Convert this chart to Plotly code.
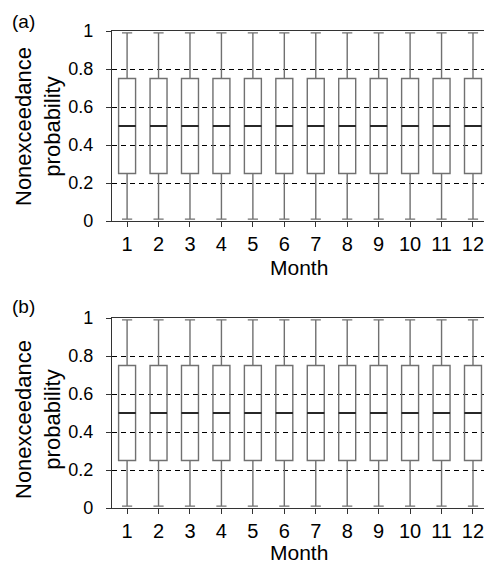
import plotly.graph_objects as go

months = [1, 2, 3, 4, 5, 6, 7, 8, 9, 10, 11, 12]
tick_labels = [str(m) for m in months]
y_ticks = [0, 0.2, 0.4, 0.6, 0.8, 1]
y_tick_labels = ["0", "0.2", "0.4", "0.6", "0.8", "1"]
# panel (a)
a_low = [0.01] * 12
a_q1 = [0.25] * 12
a_med = [0.50] * 12
a_q3 = [0.75] * 12
a_up = [0.99] * 12
# panel (b)
b_low = [0.01] * 12
b_q1 = [0.25] * 12
b_med = [0.50] * 12
b_q3 = [0.75] * 12
b_up = [0.99] * 12

W, H = 484, 565
FONT = "Liberation Sans, Arial, sans-serif"

fig = go.Figure()

def add_box(low, q1, med, q3, up, xa, ya):
    fig.add_trace(go.Box(
        x=months, lowerfence=low, q1=q1, median=med, q3=q3, upperfence=up,
        xaxis=xa, yaxis=ya, width=0.54, whiskerwidth=0.6,
        line=dict(color="#707070", width=1.4), fillcolor="rgba(0,0,0,0)",
        showlegend=False, hoverinfo="skip", boxpoints=False,
    ))
    # median drawn in black on top
    fig.add_trace(go.Box(
        x=months, lowerfence=med, q1=med, median=med, q3=med, upperfence=med,
        xaxis=xa, yaxis=ya, width=0.54, whiskerwidth=0,
        line=dict(color="black", width=0.7), fillcolor="rgba(0,0,0,0)",
        showlegend=False, hoverinfo="skip", boxpoints=False,
    ))

add_box(a_low, a_q1, a_med, a_q3, a_up, "x", "y")
add_box(b_low, b_q1, b_med, b_q3, b_up, "x2", "y2")

def py(px):
    return 1 - px / H

xdom = [112 / W, 1.0]
xaxis_common = dict(
    domain=xdom, range=[0.52, 12.35], tickvals=months, ticktext=tick_labels,
    showline=True, linecolor="#333333", linewidth=1.4, mirror=True,
    ticks="outside", ticklen=5, tickcolor="#333333", showgrid=False, zeroline=False,
    tickfont=dict(family=FONT, size=20, color="black"), ticklabelstandoff=0,
    ticklabeloverflow="allow", automargin=False,
)
yaxis_common = dict(
    range=[0, 1], tickvals=y_ticks, ticktext=y_tick_labels,
    showline=True, linecolor="#333333", linewidth=1.4,
    ticks="outside", ticklen=5, tickcolor="#333333", ticklabelstandoff=9,
    showgrid=True, gridcolor="black", griddash="5px,4px", gridwidth=1.1, zeroline=False,
    tickfont=dict(family=FONT, size=18, color="black"), automargin=False,
)

def txt(text, x, y, size, angle=0, xanchor="center"):
    return dict(text=text, x=x / W, y=py(y), xref="paper", yref="paper", xanchor=xanchor,
                yanchor="middle", textangle=angle, showarrow=False,
                font=dict(family=FONT, size=size, color="black"))

ytitle = "Nonexceedance<br>probability"
fig.update_layout(
    width=W, height=H, margin=dict(l=0, r=0, t=0, b=0, autoexpand=False),
    paper_bgcolor="white", plot_bgcolor="white",
    xaxis=dict(anchor="y", **xaxis_common),
    yaxis=dict(anchor="x", domain=[py(221), py(31)], **yaxis_common),
    xaxis2=dict(anchor="y2", **xaxis_common),
    yaxis2=dict(anchor="x2", domain=[py(508), py(318)], **yaxis_common),
    annotations=[
        txt("(a)", 10, 21, 19, xanchor="left"),
        txt("(b)", 10, 306, 19, xanchor="left"),
        txt(ytitle, 38, 127, 22, angle=-90),
        txt(ytitle, 38, 420, 22, angle=-90),
        txt("Month", 299, 268, 21),
        txt("Month", 299, 552, 21),
    ],
)

fig.write_html("out.html")
